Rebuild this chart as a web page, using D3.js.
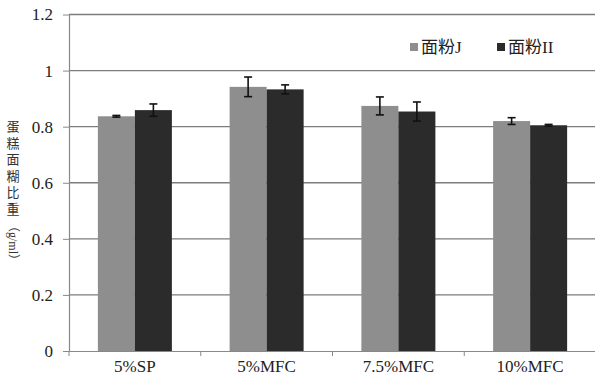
<!DOCTYPE html>
<html>
<head>
<meta charset="utf-8">
<script src="https://cdn.jsdelivr.net/npm/d3@7"></script>
<style>
body { margin: 0; background: #fff; }
text { font-family: "Liberation Serif", "Noto Sans CJK SC", serif; }
</style>
</head>
<body>
<script>
var categories = ["5%SP", "5%MFC", "7.5%MFC", "10%MFC"];
var seriesNames = ["面粉J", "面粉II"];
var flourJ = [0.837, 0.942, 0.874, 0.820];
var flourII = [0.859, 0.933, 0.854, 0.805];
var errJ = [0.003, 0.035, 0.032, 0.012];
var errII = [0.022, 0.016, 0.034, 0.003];
var yTicks = [0, 0.2, 0.4, 0.6, 0.8, 1, 1.2];
var yTitleChars = ["蛋", "糕", "面", "糊", "比", "重"];
var yTitleUnit = "（g/ml）";
var colors = ["#8e8e8e", "#2b2b2b"];

var w = 595, h = 382;
var pLeft = 69, pRight = 596, pTop = 14.5, pBottom = 351;

var svg = d3.select("body").append("svg")
    .attr("width", w)
    .attr("height", h);

var x = d3.scaleBand().domain(categories).range([pLeft, pRight]);
var x1 = d3.scaleBand().domain(seriesNames).range([0, 74]);
var y = d3.scaleLinear().domain([0, 1.2]).range([pBottom, pTop]);

// gridlines
svg.append("g").selectAll("line")
    .data(yTicks.slice(1))
    .enter().append("line")
    .attr("x1", pLeft).attr("x2", w)
    .attr("y1", function(d) { return y(d); })
    .attr("y2", function(d) { return y(d); })
    .attr("stroke", "#7d7d7d").attr("stroke-width", 1.3);

// y axis
var yAxis = svg.append("g")
    .attr("transform", "translate(" + pLeft + ",0)")
    .call(d3.axisLeft(y).tickValues(yTicks).tickSize(6).tickSizeOuter(0)
        .tickFormat(function(d) { return d === 0 || d === 1 ? d : d3.format(".1f")(d); }));
yAxis.select(".domain").attr("stroke", "#888").attr("stroke-width", 1.2);
yAxis.selectAll(".tick line").attr("stroke", "#888");
yAxis.selectAll(".tick text").attr("font-size", 17).attr("fill", "#222")
    .attr("font-family", "Liberation Serif").attr("x", -16);

// x axis
var xAxis = svg.append("g")
    .attr("transform", "translate(0," + pBottom + ")")
    .call(d3.axisBottom(x).tickSize(0).tickSizeOuter(0));
xAxis.select(".domain").attr("stroke", "#888").attr("stroke-width", 1.2);
xAxis.selectAll(".tick text").attr("font-size", 17).attr("fill", "#222")
    .attr("font-family", "Liberation Serif").attr("dy", "1.05em");
svg.append("g").selectAll("line")
    .data(categories)
    .enter().append("line")
    .attr("x1", function(d) { return x(d); })
    .attr("x2", function(d) { return x(d); })
    .attr("y1", pBottom).attr("y2", pBottom + 5)
    .attr("stroke", "#888");

// bars
var series = [flourJ, flourII];
var errs = [errJ, errII];
var rows = [];
categories.forEach(function(c, i) {
    seriesNames.forEach(function(s, k) {
        rows.push({cat: c, name: s, v: series[k][i], e: errs[k][i], k: k});
    });
});

var groupOffset = (x.bandwidth() - 74) / 2;

svg.append("g").selectAll("rect")
    .data(rows)
    .enter().append("rect")
    .attr("x", function(d) { return x(d.cat) + groupOffset + x1(d.name); })
    .attr("width", x1.bandwidth())
    .attr("y", function(d) { return y(d.v); })
    .attr("height", function(d) { return pBottom - y(d.v); })
    .attr("fill", function(d) { return colors[d.k]; });

// error bars
var eb = svg.append("g").selectAll("g")
    .data(rows)
    .enter().append("g")
    .attr("stroke", "#111").attr("stroke-width", 1.6);
function cx(d) { return x(d.cat) + groupOffset + x1(d.name) + x1.bandwidth() / 2; }
eb.append("line")
    .attr("x1", cx).attr("x2", cx)
    .attr("y1", function(d) { return y(d.v + d.e); })
    .attr("y2", function(d) { return y(d.v - d.e); });
eb.append("line")
    .attr("x1", function(d) { return cx(d) - 4; })
    .attr("x2", function(d) { return cx(d) + 4; })
    .attr("y1", function(d) { return y(d.v + d.e); })
    .attr("y2", function(d) { return y(d.v + d.e); });
eb.append("line")
    .attr("x1", function(d) { return cx(d) - 4; })
    .attr("x2", function(d) { return cx(d) + 4; })
    .attr("y1", function(d) { return y(d.v - d.e); })
    .attr("y2", function(d) { return y(d.v - d.e); });

// legend
var legX = [410, 497];
var leg = svg.append("g").selectAll("g")
    .data(seriesNames)
    .enter().append("g")
    .attr("transform", function(d, i) { return "translate(" + legX[i] + ",47)"; });
leg.append("rect")
    .attr("x", 0).attr("y", -4).attr("width", 8).attr("height", 8)
    .attr("fill", function(d, i) { return colors[i]; });
leg.append("text")
    .attr("x", 11).attr("y", 6)
    .attr("font-size", 17).attr("fill", "#222")
    .text(function(d) { return d; });

// y title: stacked characters, then rotated unit
svg.append("g").selectAll("text")
    .data(yTitleChars)
    .enter().append("text")
    .attr("x", 13)
    .attr("y", function(d, i) { return 131 + i * 16.5; })
    .attr("text-anchor", "middle")
    .attr("font-size", 13).attr("fill", "#333")
    .attr("font-family", "Noto Sans CJK SC")
    .text(function(d) { return d; });
svg.append("text")
    .attr("transform", "translate(9,220) rotate(90)")
    .attr("font-size", 12).attr("fill", "#333")
    .text(yTitleUnit);
</script>
</body>
</html>
